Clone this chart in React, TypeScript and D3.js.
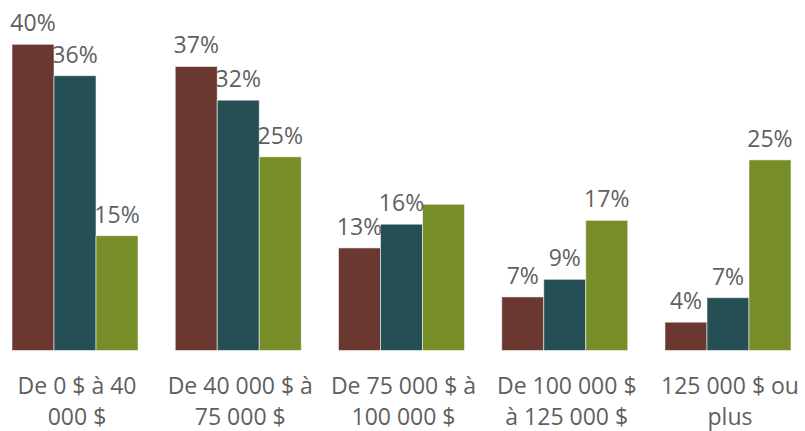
import React from "react";
import * as d3 from "d3";

const categories: string[][] = [
  ["De 0 $ à 40", "000 $"],
  ["De 40 000 $ à", "75 000 $"],
  ["De 75 000 $ à", "100 000 $"],
  ["De 100 000 $", "à 125 000 $"],
  ["125 000 $ ou", "plus"],
];
const seriesNames = ["Série 1", "Série 2", "Série 3"];
const seriesA = [40.0, 37.1, 13.4, 7.0, 3.7];
const seriesB = [35.9, 32.7, 16.5, 9.3, 6.9];
const seriesC = [15.0, 25.3, 19.1, 17.0, 24.9];
const labelsA = ["40%", "37%", "13%", "7%", "4%"];
const labelsB = ["36%", "32%", "16%", "9%", "7%"];
const labelsC = ["15%", "25%", "", "17%", "25%"];
const colors = ["#6A3731", "#254F55", "#778D28"];

const W = 805;
const H = 431;

export default function App() {
  const values = [seriesA, seriesB, seriesC];
  const labels = [labelsA, labelsB, labelsC];
  const x0 = d3
    .scaleBand<number>()
    .domain(categories.map((_, i) => i))
    .range([12, 791])
    .paddingInner(0.228)
    .paddingOuter(0);
  const x1 = d3
    .scaleBand<number>()
    .domain(seriesNames.map((_, i) => i))
    .range([0, x0.bandwidth()])
    .padding(0);
  const y = d3.scaleLinear().domain([0, 40]).range([350.5, 44.3]);
  const font = "'Open Sans', sans-serif";
  return (
    <svg
      width={W}
      height={H}
      style={{ position: "absolute", left: 0, top: 0, background: "#fff" }}
    >
      {categories.map((cat, ci) => (
        <g key={ci} transform={`translate(${x0(ci)},0)`}>
          {values.map((vals, si) => (
            <rect
              key={si}
              x={x1(si)}
              y={y(vals[ci])}
              width={x1.bandwidth()}
              height={y(0) - y(vals[ci])}
              fill={colors[si]}
              stroke="#ffffff"
              strokeOpacity={0.55}
              strokeWidth={1}
            />
          ))}
          {values.map((vals, si) =>
            labels[si][ci] ? (
              <text
                key={"l" + si}
                x={(x1(si) as number) + x1.bandwidth() / 2}
                y={y(vals[ci]) - 13}
                textAnchor="middle"
                fontFamily={font}
                fontSize={23}
                fill="#5f5f5f"
              >
                {labels[si][ci]}
              </text>
            ) : null
          )}
          {cat.map((line, li) => (
            <text
              key={"c" + li}
              x={x0.bandwidth() / 2 + 2}
              y={394 + li * 31}
              textAnchor="middle"
              fontFamily={font}
              fontSize={23}
              fill="#5f5f5f"
            >
              {line}
            </text>
          ))}
        </g>
      ))}
    </svg>
  );
}
